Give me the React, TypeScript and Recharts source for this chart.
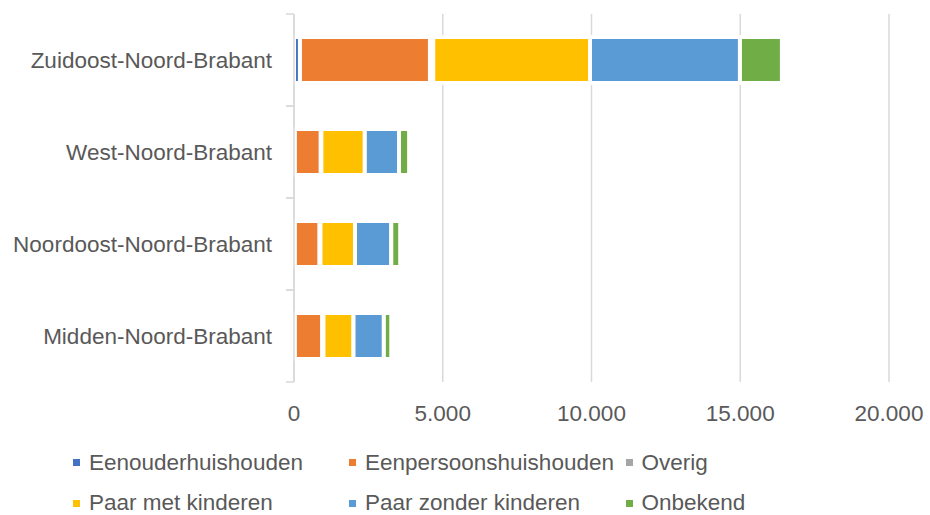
import React from 'react';
import { BarChart, Bar, XAxis, YAxis, CartesianGrid, Legend } from 'recharts';

// ---- data ----
const categories = [
  'Zuidoost-Noord-Brabant',
  'West-Noord-Brabant',
  'Noordoost-Noord-Brabant',
  'Midden-Noord-Brabant',
];
const eenouderhuishouden = [200, 30, 30, 30];
const eenpersoonshuishouden = [4370, 870, 830, 920];
const overig = [110, 20, 30, 40];
const paarMetKinderen = [5270, 1460, 1160, 1010];
const paarZonderKinderen = [5040, 1150, 1220, 1020];
const onbekend = [1410, 340, 300, 250];
const xTicks = [0, 5000, 10000, 15000, 20000];

const series = [
  { key: 'eenouder', name: 'Eenouderhuishouden', values: eenouderhuishouden, color: '#4472C4' },
  { key: 'eenpersoons', name: 'Eenpersoonshuishouden', values: eenpersoonshuishouden, color: '#ED7D31' },
  { key: 'overig', name: 'Overig', values: overig, color: '#A5A5A5' },
  { key: 'paarMet', name: 'Paar met kinderen', values: paarMetKinderen, color: '#FFC000' },
  { key: 'paarZonder', name: 'Paar zonder kinderen', values: paarZonderKinderen, color: '#5B9BD5' },
  { key: 'onbekend', name: 'Onbekend', values: onbekend, color: '#70AD47' },
];

const data = categories.map((c, i) => {
  const row: Record<string, any> = { name: c };
  series.forEach((s) => {
    row[s.key] = s.values[i];
  });
  return row;
});

// ---- layout ----
const W = 930;
const H = 515;
const MARGIN = { top: 14, right: 41, bottom: 0, left: 0 };
const YAXIS_W = 294;
const XAXIS_H = 61;
const LEGEND_H = 72;
const BAND = (H - MARGIN.top - MARGIN.bottom - LEGEND_H - XAXIS_H) / categories.length;
const FONT = '"Liberation Sans", Arial, sans-serif';
const FS = 22.5;
const TEXT = '#595959';
const GRID = '#d9d9d9';

const fmt = (v: number) => String(v).replace(/\B(?=(\d{3})+(?!\d))/g, '.');

const YTick = (props: any) => {
  const { x, y, payload } = props;
  const half = BAND / 2;
  return (
    <g>
      <text x={x} y={y} dy="0.355em" textAnchor="end" fill={TEXT} fontSize={FS} fontFamily={FONT}>
        {payload.value}
      </text>
      <line x1={x + 14} x2={x + 22} y1={y - half} y2={y - half} stroke={GRID} strokeWidth={1.5} />
      <line x1={x + 14} x2={x + 22} y1={y + half} y2={y + half} stroke={GRID} strokeWidth={1.5} />
    </g>
  );
};

const legendCols = [73, 349, 625.5];
const legendRows = [19.5, 60];

const CustomLegend = () => (
  <div style={{ position: 'relative', width: W, height: LEGEND_H, fontFamily: FONT }}>
    {series.map((s, i) => {
      const col = legendCols[i % 3];
      const row = legendRows[Math.floor(i / 3)];
      return (
        <React.Fragment key={s.key}>
          <div
            style={{
              position: 'absolute',
              left: col,
              top: row - 3.5,
              width: 7,
              height: 7,
              background: s.color,
            }}
          />
          <div
            style={{
              position: 'absolute',
              left: col + 16,
              top: row - 15,
              height: 30,
              lineHeight: '30px',
              fontSize: FS,
              color: TEXT,
              whiteSpace: 'nowrap',
            }}
          >
            {s.name}
          </div>
        </React.Fragment>
      );
    })}
  </div>
);

export default function App() {
  return (
    <div style={{ position: 'absolute', left: 0, top: 0, width: W, height: H, background: '#fff' }}>
      <BarChart
        width={W}
        height={H}
        data={data}
        layout="vertical"
        margin={MARGIN}
        barCategoryGap="25%"
      >
        <CartesianGrid horizontal={false} stroke={GRID} strokeWidth={1.5} />
        <XAxis
          type="number"
          domain={[0, 20000]}
          ticks={xTicks}
          tickFormatter={fmt}
          axisLine={false}
          tickLine={false}
          tickSize={0}
          tickMargin={23}
          height={XAXIS_H}
          tick={{ fill: TEXT, fontSize: FS, fontFamily: FONT }}
          interval={0}
        />
        <YAxis
          type="category"
          dataKey="name"
          width={YAXIS_W}
          axisLine={{ stroke: GRID, strokeWidth: 1.5 }}
          tickLine={false}
          tickSize={0}
          tickMargin={22}
          tick={<YTick />}
          interval={0}
        />
        <Legend verticalAlign="bottom" align="left" content={() => <CustomLegend />} />
        {series.map((s) => (
          <Bar
            key={s.key}
            dataKey={s.key}
            name={s.name}
            stackId="a"
            fill={s.color}
            stroke="#ffffff"
            strokeWidth={4}
            isAnimationActive={false}
          />
        ))}
      </BarChart>
    </div>
  );
}
